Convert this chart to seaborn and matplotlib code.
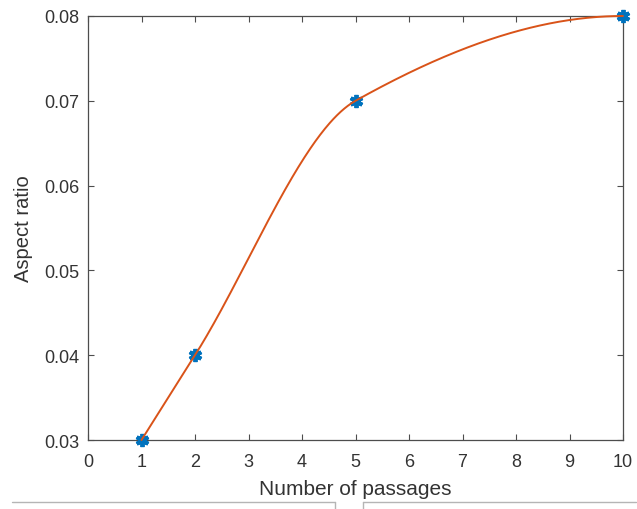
import numpy as np
import pandas as pd
import matplotlib
matplotlib.use("Agg")
import matplotlib.pyplot as plt
from matplotlib.lines import Line2D
import seaborn as sns

# Measured points
passages = [1, 2, 5, 10]
aspect_ratio = [0.03, 0.04, 0.07, 0.08]

x_ticks = list(range(0, 11))
y_ticks = [0.03, 0.04, 0.05, 0.06, 0.07, 0.08]


def pchip(x, y, xq):
    """Shape-preserving piecewise cubic Hermite interpolation."""
    x = np.asarray(x, float)
    y = np.asarray(y, float)
    h = np.diff(x)
    delta = np.diff(y) / h
    n = len(x)
    d = np.zeros(n)
    for k in range(1, n - 1):
        if delta[k - 1] * delta[k] > 0:
            w1 = 2 * h[k] + h[k - 1]
            w2 = h[k] + 2 * h[k - 1]
            d[k] = (w1 + w2) / (w1 / delta[k - 1] + w2 / delta[k])

    def end_slope(h1, h2, d1, d2):
        s = ((2 * h1 + h2) * d1 - h1 * d2) / (h1 + h2)
        if np.sign(s) != np.sign(d1):
            s = 0.0
        elif np.sign(d1) != np.sign(d2) and abs(s) > abs(3 * d1):
            s = 3 * d1
        return s

    d[0] = end_slope(h[0], h[1], delta[0], delta[1])
    d[-1] = end_slope(h[-1], h[-2], delta[-1], delta[-2])

    xq = np.asarray(xq, float)
    idx = np.clip(np.searchsorted(x, xq) - 1, 0, n - 2)
    t = (xq - x[idx]) / h[idx]
    h00 = 1 - 3 * t**2 + 2 * t**3
    h10 = t - 2 * t**2 + t**3
    h01 = 3 * t**2 - 2 * t**3
    h11 = t**3 - t**2
    return (h00 * y[idx] + h10 * h[idx] * d[idx]
            + h01 * y[idx + 1] + h11 * h[idx] * d[idx + 1])


sns.set_theme(style="white")
plt.rcParams["font.family"] = ["Liberation Sans", "DejaVu Sans"]

points = pd.DataFrame({"passages": passages, "ratio": aspect_ratio})
x_fine = np.linspace(min(passages), max(passages), 400)
curve = pd.DataFrame({"passages": x_fine,
                      "ratio": pchip(passages, aspect_ratio, x_fine)})

fig = plt.figure(figsize=(6.37, 5.10), dpi=100)
ax = fig.add_axes([88 / 637, 1 - 441 / 510, (623 - 88) / 637, (441 - 17) / 510])

text_col = "#333333"
axis_col = "#4d4d4d"

sns.lineplot(data=points, x="passages", y="ratio", ax=ax,
             marker=(6, 2, 0), markersize=9.5, markeredgewidth=2.8,
             markeredgecolor="#0072BD", color="#0072BD",
             linestyle="none", clip_on=False, zorder=3)
sns.lineplot(data=curve, x="passages", y="ratio", ax=ax,
             color="#D95319", linewidth=1.4, clip_on=False, zorder=4)

ax.set_xlim(0, 10)
ax.set_ylim(0.03, 0.08)
ax.set_xticks(x_ticks)
ax.set_xticklabels([str(v) for v in x_ticks])
ax.set_yticks(y_ticks)
ax.set_yticklabels([f"{v:.2f}" for v in y_ticks])

ax.tick_params(axis="both", direction="in", length=4.5, width=0.8,
               color=axis_col, labelcolor=text_col, labelsize=13,
               top=True, right=True, bottom=True, left=True)
ax.tick_params(axis="x", pad=9.5)
ax.tick_params(axis="y", pad=6)
for sp in ax.spines.values():
    sp.set_visible(True)
    sp.set_color(axis_col)
    sp.set_linewidth(0.9)

ax.set_xlabel("Number of passages", fontsize=15, color=text_col, labelpad=6)
ax.set_ylabel("Aspect ratio", fontsize=14.5, color=text_col, labelpad=8)

# Thin frame lines along the bottom edge
grey = "#b5b5b5"
def fig_line(xs, ys):
    fig.add_artist(Line2D([v / 637 for v in xs], [1 - v / 510 for v in ys],
                          color=grey, linewidth=1.0))

fig_line([12, 335], [503, 503])
fig_line([335, 335], [503, 510])
fig_line([363, 636], [503, 503])
fig_line([363, 363], [503, 510])

fig.savefig("out.png", dpi=100, facecolor="white")
